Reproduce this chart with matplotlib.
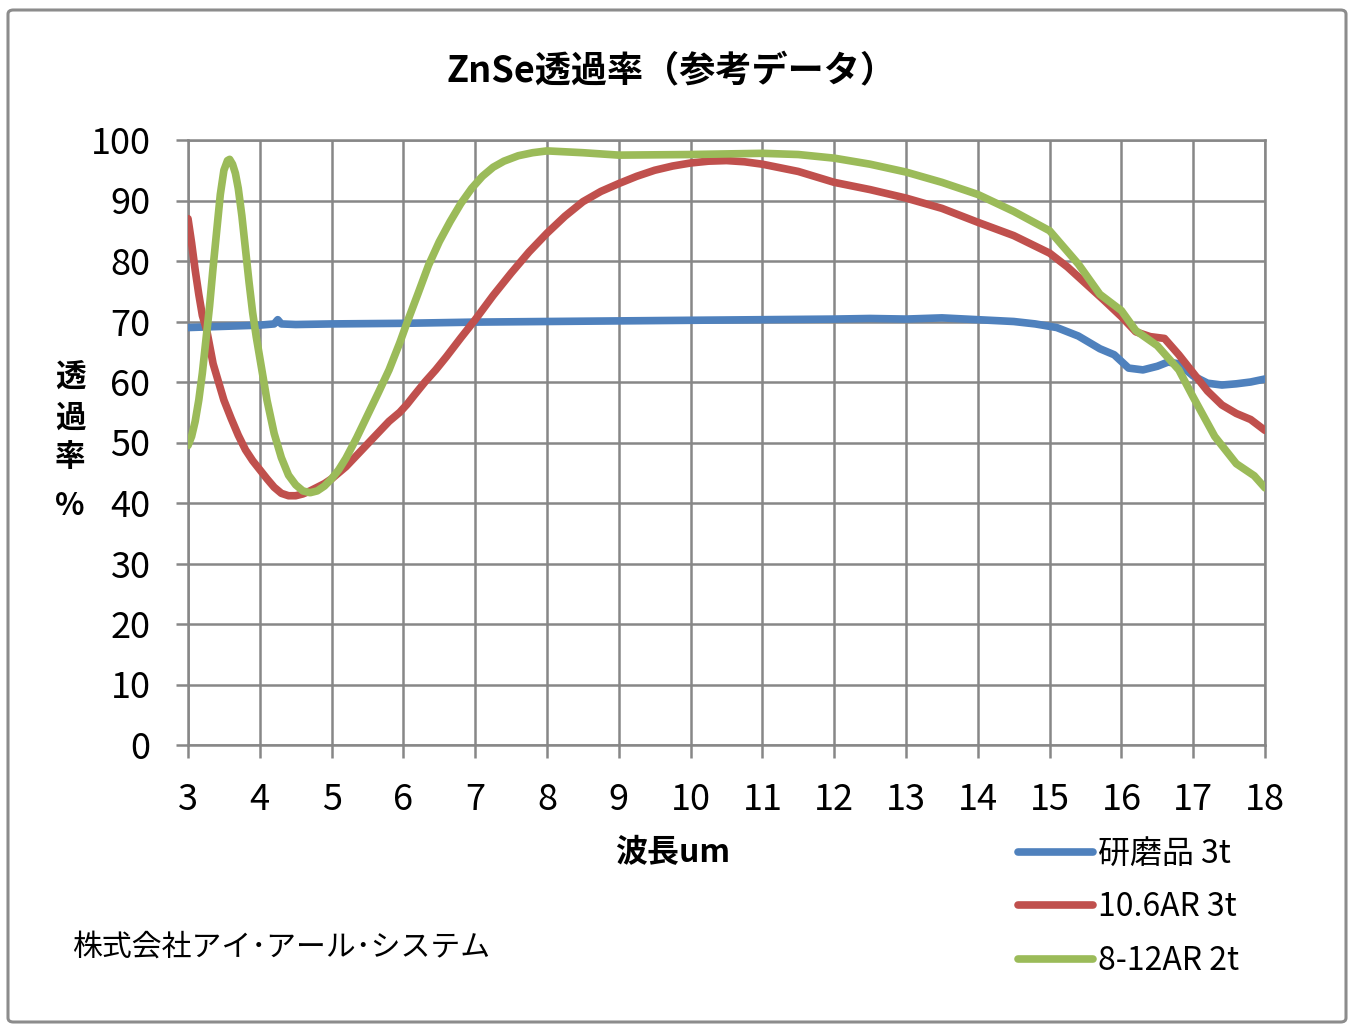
import matplotlib
matplotlib.use("Agg")
import matplotlib.pyplot as plt
from matplotlib.patches import FancyBboxPatch

plt.rcParams['font.family'] = ['Noto Sans CJK JP', 'DejaVu Sans']

# data (wavelength um, transmittance %)
blue_x = [3, 3.5, 4.0, 4.2, 4.25, 4.3, 4.5, 5, 6, 7, 8, 9, 10, 11, 12, 12.5, 13, 13.5,
          14, 14.5, 14.8, 15.1, 15.4, 15.7, 15.9, 16.1, 16.3, 16.5, 16.65, 16.8, 17.0,
          17.2, 17.4, 17.6, 17.8, 18]
blue_y = [69.0, 69.2, 69.4, 69.6, 70.3, 69.6, 69.5, 69.6, 69.7, 69.9, 70.0, 70.1, 70.2,
          70.3, 70.4, 70.5, 70.4, 70.6, 70.3, 70.0, 69.6, 69.0, 67.6, 65.5, 64.5, 62.3,
          62.0, 62.6, 63.3, 63.0, 61.0, 59.8, 59.5, 59.7, 60.0, 60.5]

red_x = [3.0, 3.05, 3.1, 3.15, 3.2, 3.26, 3.35, 3.45, 3.5, 3.6, 3.7, 3.8, 3.9, 4.0, 4.1,
         4.2, 4.3, 4.4, 4.5, 4.6, 4.7, 4.8, 4.9, 5.0, 5.2, 5.4, 5.6, 5.8, 5.95, 6.05, 6.15,
         6.3, 6.45, 6.6, 6.8, 7.0, 7.25, 7.5, 7.75, 8.0, 8.25, 8.5, 8.75, 9.0, 9.25, 9.5,
         9.75, 10.0, 10.25, 10.5, 10.75, 11.0, 11.5, 12.0, 12.5, 13.0, 13.5, 14.0, 14.5,
         15.0, 15.25, 15.5, 15.75, 16.0, 16.2, 16.4, 16.6, 16.8, 17.0, 17.2, 17.4, 17.6,
         17.8, 18]
red_y = [87, 83, 78.5, 74.5, 71, 68.6, 63, 59, 57, 54, 51.2, 48.8, 47, 45.5, 44, 42.6,
         41.6, 41.2, 41.2, 41.5, 42, 42.6, 43.2, 44, 46, 48.5, 51, 53.5, 55, 56.3, 57.8,
         60, 62, 64.2, 67.3, 70.3, 74.3, 78, 81.5, 84.6, 87.4, 89.8, 91.5, 92.8, 94, 95,
         95.7, 96.2, 96.5, 96.6, 96.4, 96, 94.8, 93, 91.8, 90.4, 88.7, 86.4, 84.2, 81.3,
         79, 76.3, 73.6, 70.8, 68.3, 67.5, 67.2, 64.5, 61.5, 58.5, 56.2, 54.8, 53.8, 52]

green_x = [3.0, 3.05, 3.1, 3.15, 3.2, 3.25, 3.3, 3.35, 3.4, 3.45, 3.5, 3.55, 3.58, 3.62,
           3.66, 3.7, 3.75, 3.8, 3.85, 3.9, 3.95, 4.0, 4.05, 4.1, 4.2, 4.3, 4.4, 4.5, 4.6,
           4.7, 4.8, 4.9, 5.0, 5.1, 5.2, 5.35, 5.5, 5.65, 5.8, 5.95, 6.05, 6.2, 6.35, 6.5,
           6.65, 6.8, 6.95, 7.1, 7.25, 7.4, 7.6, 7.8, 8.0, 8.5, 9, 10, 11, 11.5, 12, 12.5,
           13, 13.5, 14, 14.5, 15, 15.4, 15.7, 16.0, 16.2, 16.5, 16.8, 17.0, 17.3, 17.6,
           17.85, 18]
green_y = [49.5, 51, 53.5, 57, 61.5, 67, 72.5, 79, 85, 91, 95, 96.6, 96.8, 96,
           94.5, 92, 87.5, 82, 76.5, 71.5, 67.5, 64, 60.5, 57, 51.5, 47.5, 44.6, 43, 42, 41.7, 42,
           42.8, 44, 45.5, 47.4, 50.8, 54.5, 58.2, 62, 66.5, 69.8, 74.5, 79.3, 83.2, 86.5,
           89.5, 92, 94, 95.5, 96.5, 97.4, 97.9, 98.2, 97.9, 97.5, 97.6, 97.8, 97.6, 97,
           96, 94.7, 93, 91, 88.2, 85, 79.5, 74.5, 71.8, 68.5, 66, 62, 57.5, 51, 46.5,
           44.5, 42.5]

labels = ['研磨品 3t', '10.6AR 3t', '8-12AR 2t']
colors = ['#4F81BD', '#C0504D', '#9BBB59']
x_ticks = list(range(3, 19))
y_ticks = list(range(0, 101, 10))

fig = plt.figure(figsize=(13.55, 10.31), dpi=100)
ax = fig.add_axes([188/1355, 1 - 745/1031, (1265-188)/1355, (745-140)/1031])

# outer frame
fig.patches.append(FancyBboxPatch((8/1355, 9/1031), 1338/1355, 1012/1031,
                                  boxstyle="round,pad=0,rounding_size=0.004",
                                  transform=fig.transFigure, fill=False,
                                  edgecolor='#8c8c8c', linewidth=2.2))

series = [(blue_x, blue_y), (red_x, red_y), (green_x, green_y)]
handles = []
for (xs, ys), c, lab in zip(series, colors, labels):
    h, = ax.plot(xs, ys, color=c, linewidth=5.5, solid_capstyle='round',
                 solid_joinstyle='round', label=lab, zorder=3)
    handles.append(h)

ax.set_xlim(3, 18)
ax.set_ylim(0, 100)
ax.set_xticks(x_ticks)
ax.set_yticks(y_ticks)
ax.grid(True, color='#878787', linewidth=1.8)
ax.set_axisbelow(True)
for s in ax.spines.values():
    s.set_color('#878787')
    s.set_linewidth(1.8)
ax.tick_params(axis='both', length=9, width=1.8, color='#878787', labelsize=26)
ax.tick_params(axis='x', pad=18)
ax.tick_params(axis='y', pad=18)

fig.text(672/1355, 1 - 72/1031, 'ZnSe透過率（参考データ）', ha='center', va='center',
         fontsize=26, fontweight='bold')
fig.text(673/1355, 1 - 853/1031, '波長um', ha='center', va='center',
         fontsize=23, fontweight='bold')
for ch, yp in zip(['透', '過', '率', '%'], [378, 418, 457, 506]):
    fig.text(70/1355, 1 - yp/1031, ch, ha='center', va='center',
             fontsize=22, fontweight='bold')
fig.text(72/1355, 1 - 947/1031, '株式会社アイ･アール･システム', ha='left', va='center',
         fontsize=21.5)

fig.legend(handles=handles, labels=labels, loc='upper left',
           bbox_to_anchor=(1005/1355, 1 - 825/1031), frameon=False, fontsize=23,
           handlelength=2.35, handletextpad=0.15, labelspacing=0.68, borderaxespad=0)

fig.savefig('out.png', dpi=100)
